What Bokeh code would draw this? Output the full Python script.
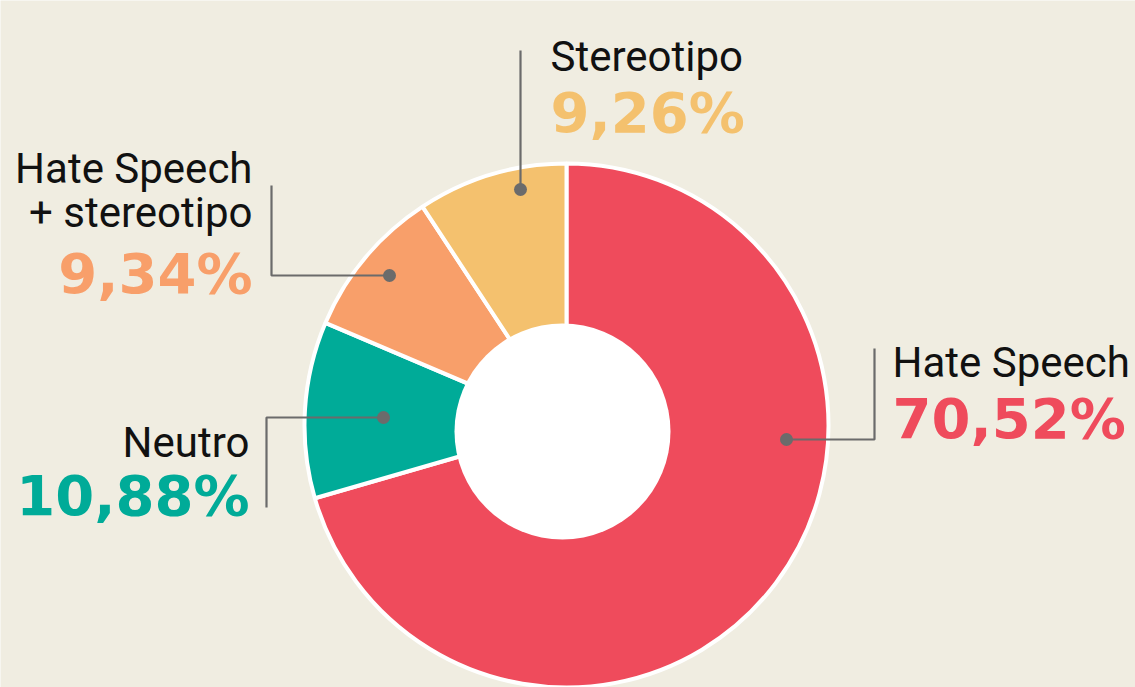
import math
from bokeh.plotting import figure
from bokeh.models import Range1d
from bokeh.core.properties import value
from bokeh.embed import file_html
from bokeh.resources import INLINE

# ---- data ----
categories = ["Hate Speech", "Neutro", "Hate Speech\n+ stereotipo", "Stereotipo"]
shares = [70.52, 10.88, 9.34, 9.26]
pct_labels = ["70,52%", "10,88%", "9,34%", "9,26%"]
colors = ["#EF4B5C", "#00AB98", "#F89F6A", "#F4C16E"]

BG = "#F0EDE1"
W, H = 1135, 687

# page coordinates: x = page px, y = -page px
p = figure(width=W, height=H, output_backend="svg", toolbar_location=None,
           x_range=Range1d(0, W), y_range=Range1d(-H, 0),
           x_axis_location=None, y_axis_location=None,
           background_fill_color=BG, border_fill_color=BG, outline_line_color=None,
           min_border=0)
p.xgrid.visible = False
p.ygrid.visible = False

cx, cy, R = 566, -425, 262
total = sum(shares)
starts, ends = [], []
cum = 0.0
for s in shares:
    starts.append(math.pi / 2 - cum / total * 2 * math.pi)
    cum += s
    ends.append(math.pi / 2 - cum / total * 2 * math.pi)

p.wedge(x=[cx] * 4, y=[cy] * 4, radius=R, start_angle=starts, end_angle=ends,
        direction="clock", fill_color=colors, line_color="white", line_width=4)
# hole
p.scatter(x=[562], y=[-431], size=216, marker="circle", fill_color="white", line_color=None)

# leader lines and dots
GRAY = "#6B6B6B"
leaders = [
    ([786, 874, 874], [439, 439, 348]),
    ([383, 266, 266], [417, 417, 507]),
    ([389, 271, 271], [275, 275, 185]),
    ([520, 520], [189, 50]),
]
for xs, ys in leaders:
    p.line(xs, [-v for v in ys], line_color=GRAY, line_width=2.2)
dots_x = [l[0][0] for l in leaders]
dots_y = [-l[1][0] for l in leaders]
p.scatter(dots_x, dots_y, size=13, marker="circle", fill_color=GRAY, line_color=None)

LABEL_FONT = value("Roboto")
PCT_FONT = value("DejaVu Sans")
LS = "42px"
PS = "56px"

# label layout: (x, align, [baselines of name lines], pct baseline)
layout = [
    (892, "left", [362], 418),
    (249, "right", [442], 495),
    (252, "right", [168, 212], 273),
    (550, "left", [56], 112),
]
for (x, align, bl, pb), name, pct, col in zip(layout, categories, pct_labels, colors):
    lines = name.split("\n")
    for ln, b in zip(lines, bl):
        p.text(x=[x], y=[-b], text=[ln], text_font=LABEL_FONT, text_font_size=LS,
               text_color="#111111", text_align=align, text_baseline="alphabetic")
    p.text(x=[x], y=[-pb], text=[pct], text_font=PCT_FONT, text_font_size=PS,
           text_font_style="bold", text_color=col, text_align=align,
           text_baseline="alphabetic")

open("out.html", "w").write(file_html(p, INLINE))
